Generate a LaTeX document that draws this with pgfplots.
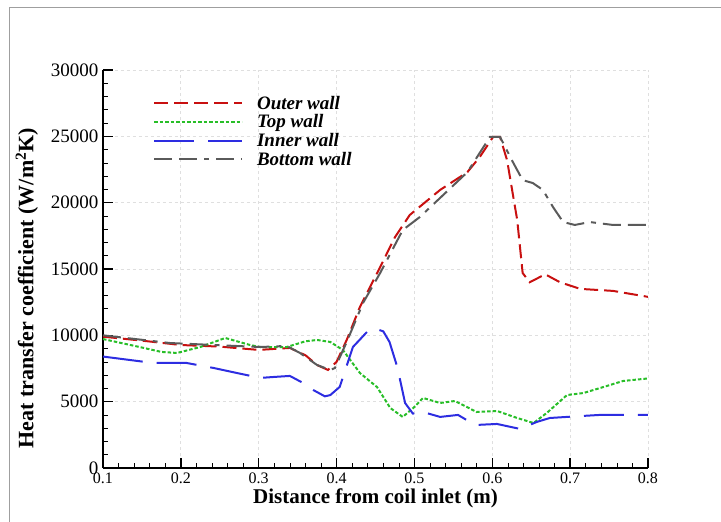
\documentclass[border=0pt]{standalone}
\usepackage{fontspec}
\setmainfont{Liberation Serif}
\usepackage{pgfplots}
\pgfplotsset{compat=1.18}
\definecolor{cred}{RGB}{200,16,16}
\definecolor{cgreen}{RGB}{40,190,40}
\definecolor{cblue}{RGB}{45,45,225}
\definecolor{cgray}{RGB}{90,90,90}
\begin{document}
\begin{tikzpicture}[x=1pt,y=1pt]
\path[use as bounding box] (-103,-54) rectangle (618,468);
\draw[gray!75, line width=0.9pt] (-94,-60) -- (-94,461) -- (625,461);
\begin{axis}[
  at={(0,0)}, anchor=south west,
  scale only axis, width=545pt, height=398pt,
  xmin=0.1, xmax=0.8, ymin=0, ymax=30000,
  xtick={0.1,0.2,0.3,0.4,0.5,0.6,0.7,0.8},
  ytick={0,5000,10000,15000,20000,25000,30000},
  minor x tick num=4, minor y tick num=4,
  axis x line*=bottom, axis y line*=left,
  tick align=inside,
  major tick length=10pt, minor tick length=5pt,
  axis line style={line width=1.6pt},
  major tick style={black, line width=1.4pt},
  minor tick style={black, line width=0.6pt},
  grid=major,
  major grid style={dashed, gray!25, line width=0.8pt},
  scaled y ticks=false,
  /pgf/number format/assume math mode=true,
  /pgf/number format/1000 sep={},
  x tick label style={/pgf/number format/fixed, /pgf/number format/precision=1, font=\fontsize{16}{18}\selectfont, yshift=-1pt},
  y tick label style={font=\fontsize{19}{21}\selectfont, xshift=-1pt},
  xlabel={\bfseries Distance from coil inlet (m)},
  ylabel={\bfseries Heat transfer coefficient (W/m\textsuperscript{2}K)},
  label style={font=\fontsize{21}{24}\selectfont},
  xlabel style={yshift=2pt},
  ylabel style={at={(ticklabel cs:0.452,6pt)}, font=\fontsize{22}{24}\selectfont},
  legend style={at={(0.086,0.945)}, anchor=north west, draw=none, fill=none,
    font=\fontsize{19}{20}\selectfont\bfseries\itshape,
    nodes={inner ysep=2pt},
    /tikz/every odd column/.append style={column sep=12pt}},
  legend cell align=left,
  legend image code/.code={\draw[#1] (0pt,0pt) -- (88pt,0pt);},
]
\addplot[cred, line width=2pt, dash pattern=on 14pt off 6pt] coordinates {
(0.1,9900) (0.15,9600) (0.2,9270) (0.25,9150) (0.3,8900) (0.34,9050) (0.36,8500)
(0.375,7760) (0.389,7390) (0.40,8000) (0.413,9650) (0.43,12140) (0.456,15150)
(0.475,17400) (0.494,19070) (0.533,20960) (0.568,22300) (0.584,23450) (0.601,24950)
(0.61,24950) (0.619,23200) (0.632,18700) (0.639,14700) (0.648,14000) (0.668,14600)
(0.687,14000) (0.713,13500) (0.755,13350) (0.8,12900)};
\addlegendentry{Outer wall}
\addplot[cgreen, line width=2pt, dash pattern=on 3.5pt off 2pt] coordinates {
(0.1,9720) (0.147,9120) (0.175,8750) (0.195,8670) (0.225,9120) (0.257,9800) (0.289,9270)
(0.302,9120) (0.336,9120) (0.36,9550) (0.375,9650) (0.392,9500) (0.408,8900) (0.43,7160)
(0.452,6100) (0.469,4520) (0.485,3850) (0.50,4600) (0.511,5280) (0.533,4900) (0.552,5050)
(0.58,4220) (0.606,4300) (0.632,3770) (0.653,3390) (0.67,4150) (0.696,5500) (0.717,5650)
(0.747,6180) (0.768,6560) (0.8,6750)};
\addlegendentry{Top wall}
\addplot[cblue, line width=2pt, dash pattern=on 40pt off 14pt] coordinates {
(0.1,8400) (0.164,7920) (0.207,7920) (0.242,7540) (0.272,7160) (0.302,6790) (0.319,6860)
(0.34,6940) (0.357,6410) (0.37,5880) (0.385,5400) (0.392,5500) (0.404,6110) (0.421,9120)
(0.439,10250) (0.447,10550) (0.46,10300) (0.468,9500) (0.478,7610) (0.488,4900)
(0.498,4100) (0.511,4220) (0.533,3850) (0.556,4000) (0.578,3240) (0.606,3320)
(0.636,2940) (0.657,3470) (0.674,3770) (0.715,3920) (0.738,4000) (0.8,4000)};
\addlegendentry{Inner wall}
\addplot[cgray, line width=2pt, dash pattern=on 18pt off 7pt on 18pt off 7pt on 5pt off 7pt] coordinates {
(0.1,10000) (0.186,9420) (0.25,9250) (0.302,9120) (0.336,9200) (0.353,8670) (0.375,7760)
(0.392,7390) (0.398,7540) (0.413,9500) (0.434,12440) (0.456,14700) (0.485,17940)
(0.507,18920) (0.537,20580) (0.568,22300) (0.597,24950) (0.61,24950) (0.627,23000)
(0.639,21700) (0.652,21480) (0.665,20960) (0.678,19670) (0.691,18540) (0.706,18320)
(0.725,18540) (0.755,18320) (0.8,18320)};
\addlegendentry{Bottom wall}
\end{axis}
\end{tikzpicture}
\end{document}
